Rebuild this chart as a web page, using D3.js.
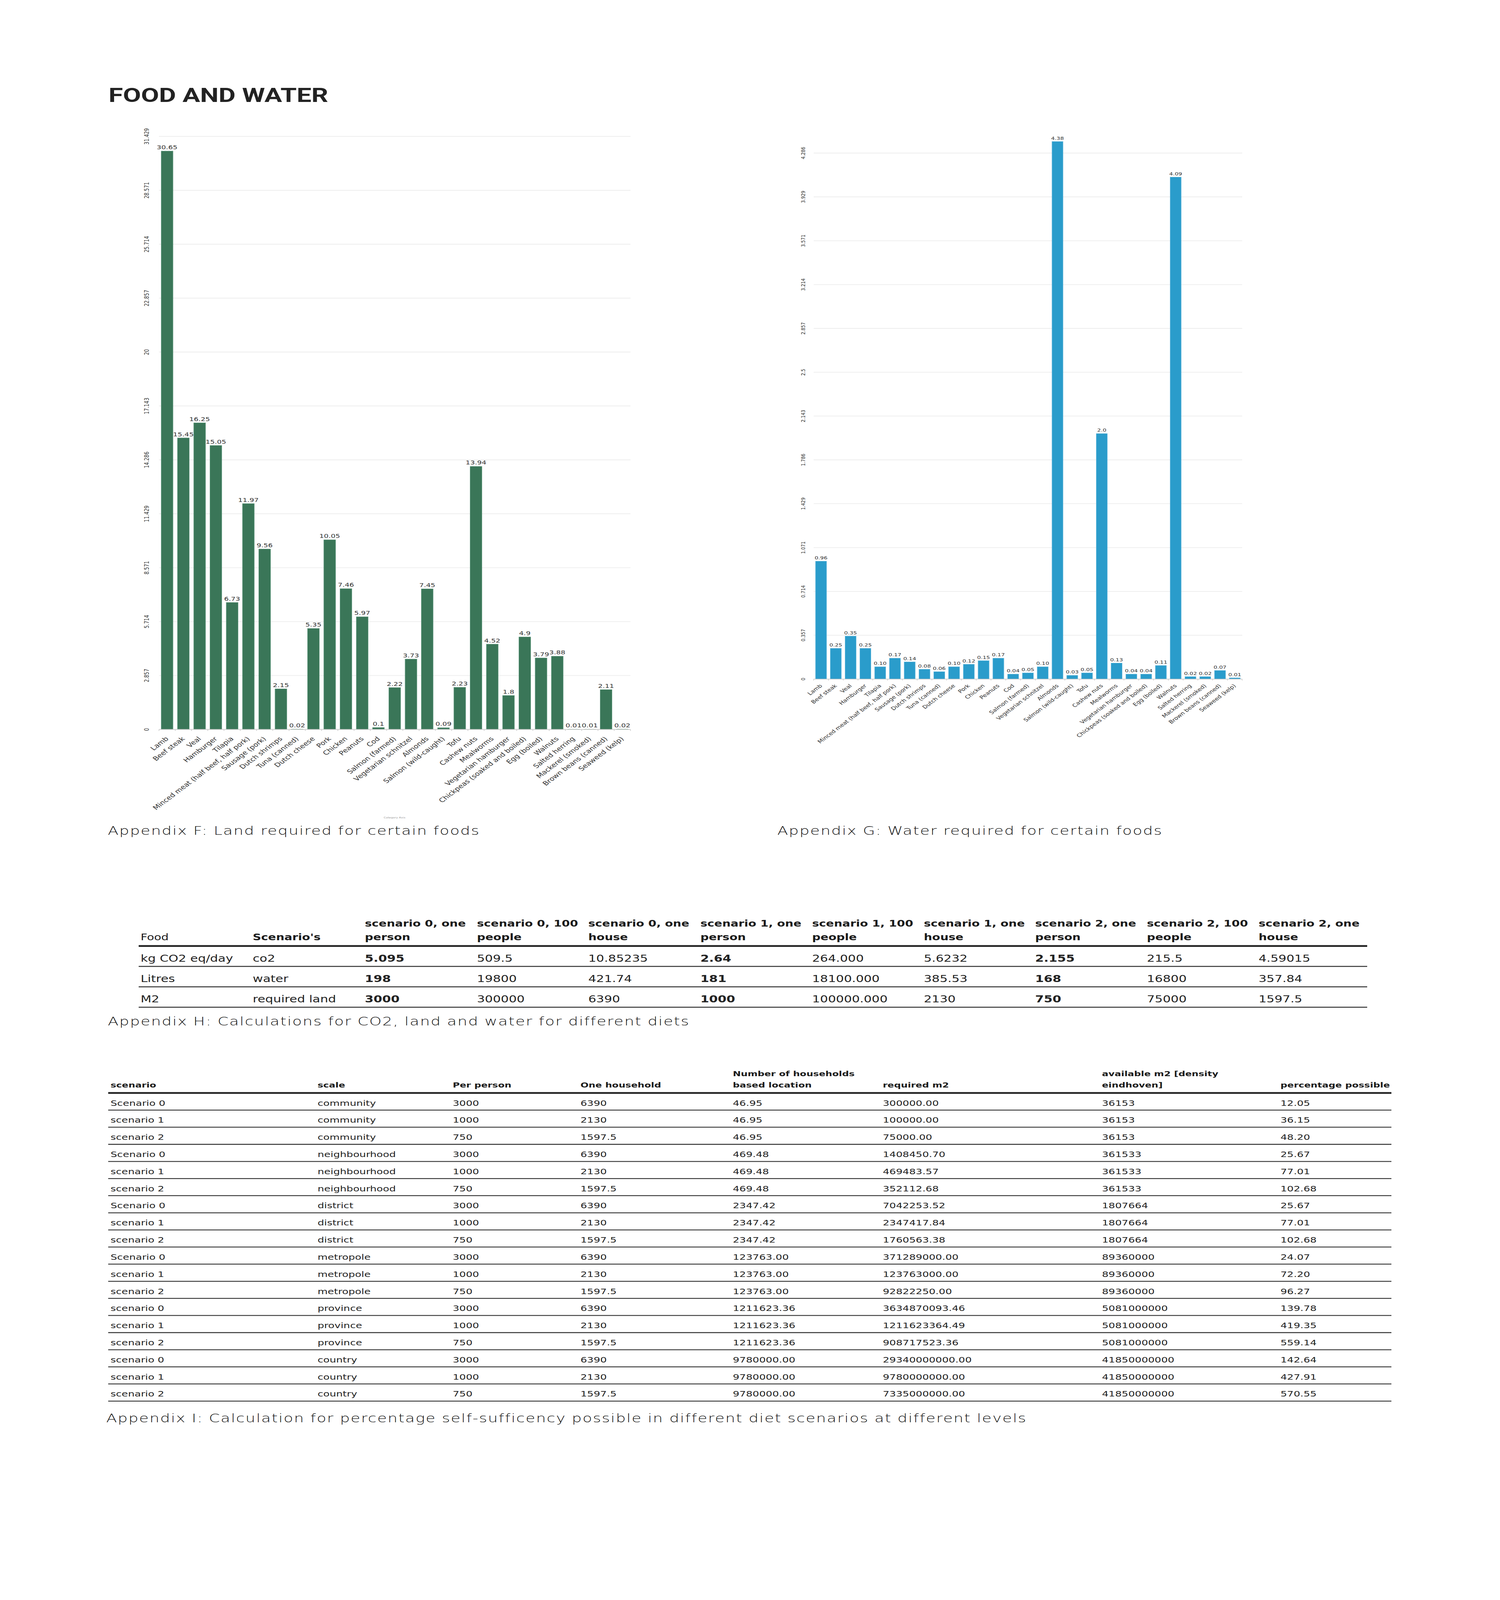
<!DOCTYPE html>
<html><head><meta charset="utf-8">
<script src="https://cdn.jsdelivr.net/npm/d3@7"></script>
<style>
html,body{margin:0;padding:0;background:#fff;width:100%;height:100%;overflow:hidden;}
svg{display:block;width:100vw;height:100vh;}
</style></head>
<body><svg id="page" viewBox="0 0 3840 5431" preserveAspectRatio="none"></svg>
<script>
// ---------------- DATA ----------------
const foods = ["Lamb","Beef steak","Veal","Hamburger","Tilapia","Minced meat (half beef, half pork)","Sausage (pork)","Dutch shrimps","Tuna (canned)","Dutch cheese","Pork","Chicken","Peanuts","Cod","Salmon (farmed)","Vegetarian schnitzel","Almonds","Salmon (wild-caught)","Tofu","Cashew nuts","Mealworms","Vegetarian hamburger","Chickpeas (soaked and boiled)","Egg (boiled)","Walnuts","Salted herring","Mackerel (smoked)","Brown beans (canned)","Seaweed (kelp)"];
const landValues = [30.65,15.45,16.25,15.05,6.73,11.97,9.56,2.15,0.02,5.35,10.05,7.46,5.97,0.1,2.22,3.73,7.45,0.09,2.23,13.94,4.52,1.8,4.9,3.79,3.88,0.01,0.01,2.11,0.02];
const waterValues = [0.96,0.25,0.35,0.25,0.10,0.17,0.14,0.08,0.06,0.10,0.12,0.15,0.17,0.04,0.05,0.10,4.38,0.03,0.05,2.0,0.13,0.04,0.04,0.11,4.09,0.02,0.02,0.07,0.01];
const waterLabels = ["0.96","0.25","0.35","0.25","0.10","0.17","0.14","0.08","0.06","0.10","0.12","0.15","0.17","0.04","0.05","0.10","4.38","0.03","0.05","2.0","0.13","0.04","0.04","0.11","4.09","0.02","0.02","0.07","0.01"];
const landTicks = [0,2.857,5.714,8.571,11.429,14.286,17.143,20,22.857,25.714,28.571,31.429];
const waterTicks = [0,0.357,0.714,1.071,1.429,1.786,2.143,2.5,2.857,3.214,3.571,3.929,4.286];

const tableHHead1 = ["","","scenario 0, one","scenario 0, 100","scenario 0, one","scenario 1, one","scenario 1, 100","scenario 1, one","scenario 2, one","scenario 2, 100","scenario 2, one"];
const tableHHead2 = ["Food","Scenario's","person","people","house","person","people","house","person","people","house"];
const tableHRows = [
  ["kg CO2 eq/day","co2","5.095","509.5","10.85235","2.64","264.000","5.6232","2.155","215.5","4.59015"],
  ["Litres","water","198","19800","421.74","181","18100.000","385.53","168","16800","357.84"],
  ["M2","required land","3000","300000","6390","1000","100000.000","2130","750","75000","1597.5"]
];
const tableHBoldCols = [2,5,8];

const tableIHead1 = ["","","","","Number of households","","available m2 [density",""];
const tableIHead2 = ["scenario","scale","Per person","One household","based location","required m2","eindhoven]","percentage possible"];
const tableIRows = [
  ["Scenario 0","community","3000","6390","46.95","300000.00","36153","12.05"],
  ["scenario 1","community","1000","2130","46.95","100000.00","36153","36.15"],
  ["scenario 2","community","750","1597.5","46.95","75000.00","36153","48.20"],
  ["Scenario 0","neighbourhood","3000","6390","469.48","1408450.70","361533","25.67"],
  ["scenario 1","neighbourhood","1000","2130","469.48","469483.57","361533","77.01"],
  ["scenario 2","neighbourhood","750","1597.5","469.48","352112.68","361533","102.68"],
  ["Scenario 0","district","3000","6390","2347.42","7042253.52","1807664","25.67"],
  ["scenario 1","district","1000","2130","2347.42","2347417.84","1807664","77.01"],
  ["scenario 2","district","750","1597.5","2347.42","1760563.38","1807664","102.68"],
  ["Scenario 0","metropole","3000","6390","123763.00","371289000.00","89360000","24.07"],
  ["scenario 1","metropole","1000","2130","123763.00","123763000.00","89360000","72.20"],
  ["scenario 2","metropole","750","1597.5","123763.00","92822250.00","89360000","96.27"],
  ["scenario 0","province","3000","6390","1211623.36","3634870093.46","5081000000","139.78"],
  ["scenario 1","province","1000","2130","1211623.36","1211623364.49","5081000000","419.35"],
  ["scenario 2","province","750","1597.5","1211623.36","908717523.36","5081000000","559.14"],
  ["scenario 0","country","3000","6390","9780000.00","29340000000.00","41850000000","142.64"],
  ["scenario 1","country","1000","2130","9780000.00","9780000000.00","41850000000","427.91"],
  ["scenario 2","country","750","1597.5","9780000.00","7335000000.00","41850000000","570.55"]
];

const captions = [
  "Appendix F: Land required for certain foods",
  "Appendix G: Water required for certain foods",
  "Appendix H: Calculations for CO2, land and water for different diets",
  "Appendix I: Calculation for percentage self-sufficency possible in different diet scenarios at different levels"
];

// ---------------- LAYOUT ----------------
const FONT = '"DejaVu Sans", "Noto Sans", sans-serif';
const svg = d3.select("#page");
svg.append("rect").attr("width",3840).attr("height",5431).attr("fill","#fff");

svg.append("text").attr("x",278).attr("y",346)
  .attr("font-family",'Roboto, "Noto Sans", sans-serif').attr("font-weight",700)
  .attr("font-size",67).attr("fill","#222").text("FOOD AND WATER");

function barChart(cfg) {
  const g = svg.append("g");
  const x = d3.scaleBand().domain(foods).range([cfg.x0, cfg.x1])
    .paddingInner(cfg.pi).paddingOuter(cfg.po);
  const y = d3.scaleLinear().domain([0, cfg.ymax]).range([cfg.yBase, cfg.yTop]);

  g.selectAll("line.grid").data(cfg.ticks.filter(t => t > 0)).join("line")
    .attr("x1", cfg.x0).attr("x2", cfg.x1)
    .attr("y1", d => y(d)).attr("y2", d => y(d))
    .attr("stroke", "#ededed").attr("stroke-width", 2.5);

  g.selectAll("text.tick").data(cfg.ticks).join("text")
    .attr("transform", d => `translate(${cfg.tickX},${y(d)}) rotate(-90)`)
    .attr("text-anchor","middle").attr("dominant-baseline","central")
    .attr("font-family", FONT).attr("font-size", cfg.tickFs).attr("fill","#333")
    .text(d => String(d));

  g.selectAll("rect.bar").data(cfg.values).join("rect")
    .attr("x", (d,i) => x(foods[i])).attr("width", x.bandwidth())
    .attr("y", d => y(d)).attr("height", d => y(0) - y(d))
    .attr("fill", cfg.color).attr("stroke", cfg.edge).attr("stroke-width", 1.2);

  g.append("line").attr("x1", cfg.x0).attr("x2", cfg.x1)
    .attr("y1", y(0)).attr("y2", y(0)).attr("stroke","#c8c8c8").attr("stroke-width",2);
  const bounds = foods.map(f => x(f) - x.step()*x.paddingInner()/2).concat([cfg.x1]);
  g.selectAll("line.tk").data(bounds).join("line")
    .attr("x1", d => d).attr("x2", d => d)
    .attr("y1", y(0)).attr("y2", y(0) + 5).attr("stroke","#c8c8c8").attr("stroke-width",1.5);

  g.selectAll("text.val").data(cfg.values).join("text")
    .attr("x", (d,i) => x(foods[i]) + x.bandwidth()/2).attr("y", d => y(d) - 6)
    .attr("text-anchor","middle").attr("font-family", FONT).attr("font-size", cfg.valFs)
    .attr("fill","#333").text((d,i) => cfg.labels ? cfg.labels[i] : String(d));

  g.selectAll("text.cat").data(foods).join("text")
    .attr("transform", d => `translate(${x(d) + x.bandwidth()/2 + cfg.catDx},${y(0) + cfg.catDy}) rotate(-45)`)
    .attr("text-anchor","end").attr("font-family", FONT).attr("font-size", cfg.catFs)
    .attr("fill","#333").text(d => d);
  return {x, y};
}

barChart({x0:407, x1:1614, pi:0.28, po:0.14, ymax:31.429, yBase:2476, yTop:463,
  ticks: landTicks, tickX:375, tickFs:16, values: landValues, color:"#3a7658", edge:"#5b957a",
  valFs:18.5, catFs:20, catDx:5, catDy:33});
svg.append("text").attr("x",1010).attr("y",2778).attr("text-anchor","middle")
  .attr("font-family",FONT).attr("font-size",8).attr("fill","#999").text("Category Axis");

barChart({x0:2083, x1:3180, pi:0.26, po:0.13, ymax:4.38, yBase:2305, yTop:480.3,
  ticks: waterTicks, tickX:2056, tickFs:14.7, values: waterValues, labels: waterLabels,
  color:"#2a9ccb", edge:"#5ab3da", valFs:14.8, catFs:16.2, catDx:4, catDy:24});

const capPos = [[276,2833],[1990,2833],[276,3480],[272,4828]];
svg.selectAll("text.caption").data(captions).join("text")
  .attr("x",(d,i)=>capPos[i][0]).attr("y",(d,i)=>capPos[i][1])
  .attr("font-family",FONT).attr("font-weight",300).attr("font-size",40)
  .attr("letter-spacing",2).attr("fill","#111")
  .text(d=>d);

// -------- Table H --------
const colXH = [360,647,934,1221,1506,1793,2079,2365,2650,2936,3222];
const gH = svg.append("g");
gH.selectAll("text.h1").data(tableHHead1).join("text")
  .attr("x",(d,i)=>colXH[i]).attr("y",3145).attr("font-family",FONT).attr("font-weight",700)
  .attr("font-size",30).attr("fill","#1a1a1a").text(d=>d);
gH.selectAll("text.h2").data(tableHHead2).join("text")
  .attr("x",(d,i)=>colXH[i]).attr("y",3192).attr("font-family",FONT)
  .attr("font-weight",(d,i)=> i===0 ? 400 : 700)
  .attr("font-size",30).attr("fill","#1a1a1a").text(d=>d);
gH.append("line").attr("x1",355).attr("x2",3500).attr("y1",3211).attr("y2",3211)
  .attr("stroke","#222").attr("stroke-width",6);
const rowYH = d3.scaleLinear().domain([0,1]).range([3211,3280.3]);
tableHRows.forEach((row,r)=>{
  gH.selectAll(null).data(row).join("text")
    .attr("x",(d,i)=>colXH[i]).attr("y",rowYH(r+1)-16)
    .attr("font-family",FONT).attr("font-weight",(d,i)=>tableHBoldCols.includes(i)?700:400)
    .attr("font-size",32).attr("fill","#222").text(d=>d);
  gH.append("line").attr("x1",355).attr("x2",3500).attr("y1",rowYH(r+1)).attr("y2",rowYH(r+1))
    .attr("stroke","#333").attr("stroke-width",3.5);
});

// -------- Table I --------
const colXI = [283,813,1159,1486,1876,2260,2821,3278];
const gI = svg.append("g");
gI.selectAll("text.h1").data(tableIHead1).join("text")
  .attr("x",(d,i)=>colXI[i]).attr("y",3653).attr("font-family",FONT).attr("font-weight",700)
  .attr("font-size",24.5).attr("fill","#1a1a1a").text(d=>d);
gI.selectAll("text.h2").data(tableIHead2).join("text")
  .attr("x",(d,i)=>colXI[i]).attr("y",3692).attr("font-family",FONT).attr("font-weight",700)
  .attr("font-size",24.5).attr("fill","#1a1a1a").text(d=>d);
gI.append("line").attr("x1",277).attr("x2",3562).attr("y1",3710).attr("y2",3710)
  .attr("stroke","#222").attr("stroke-width",6);
const rowYI = d3.scaleLinear().domain([0,1]).range([3710,3768.1]);
tableIRows.forEach((row,r)=>{
  gI.selectAll(null).data(row).join("text")
    .attr("x",(d,i)=>colXI[i]).attr("y",rowYI(r+1)-15)
    .attr("font-family",FONT).attr("font-weight",400)
    .attr("font-size",26.5).attr("fill","#222").text(d=>d);
  gI.append("line").attr("x1",277).attr("x2",3562).attr("y1",rowYI(r+1)).attr("y2",rowYI(r+1))
    .attr("stroke","#333").attr("stroke-width",3);
});
</script>
</body></html>
